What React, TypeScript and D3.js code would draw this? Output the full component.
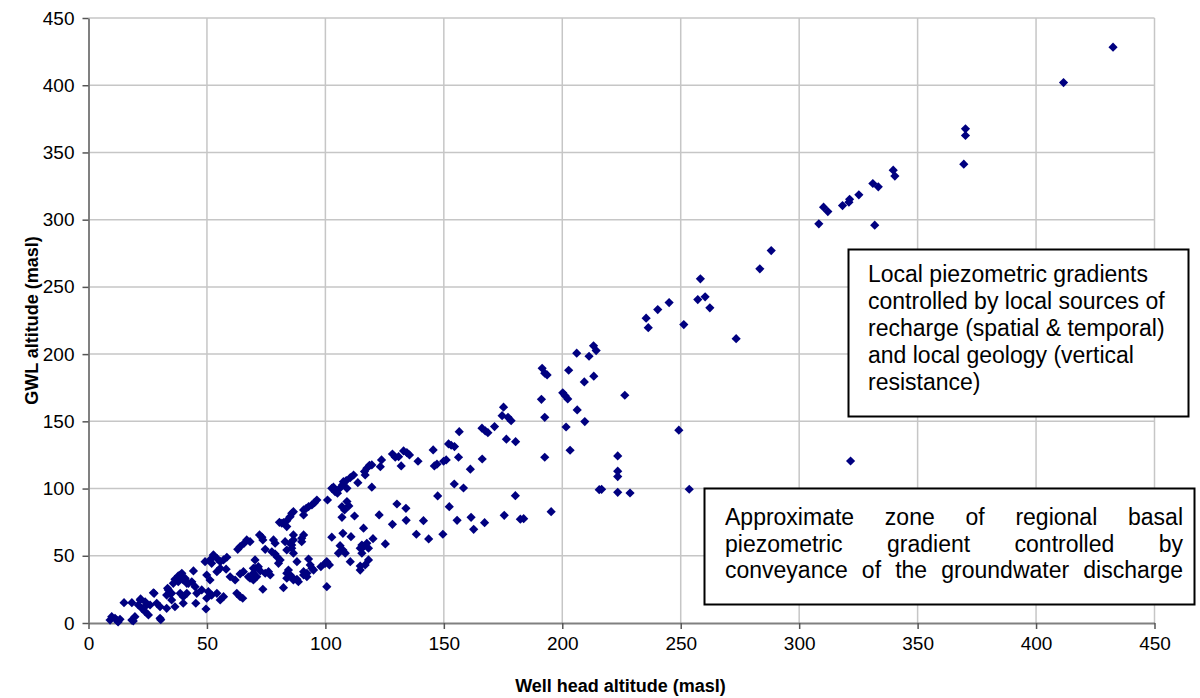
import React, { useEffect, useRef } from 'react';
import * as d3 from 'd3';

// [well head altitude, GWL altitude] pairs (masl)
const wells0to50: [number, number][] = [
  [9.1, 2.2], [9.8, 4.7], [11.2, 3.5], [11.9, 2.2], [13.3, 2.7], [12.5, 0.8], [18.3, 2.2], [18.9, 1.5], [19.6, 4.7], [30.2, 3.5], [30.5, 2.5],
  [15, 15.1], [18.3, 15.1], [21, 13.4], [22.5, 10.9], [23.9, 8.4], [25.3, 6], [21.8, 17.1], [23.9, 15.8], [26, 13.4], [28.8, 14.7], [30.2, 12.1], [33, 10.9], [22, 17.9], [24.6, 13.4],
  [27.4, 22.5], [27.7, 22.1], [33.7, 24.6], [35.1, 22.1], [33, 20.8], [33.4, 25.8], [34.4, 22.1], [35.1, 17.1], [36.5, 12.1],
  [38.7, 22.1], [40, 19.6], [41.5, 22.1], [45.7, 22.1], [47.8, 24.6], [40, 14.7], [45.3, 14.7], [49.6, 10.4], [49.9, 18.4],
  [39.4, 37], [37.9, 35], [36.5, 32.5], [40.8, 33.3], [42.2, 29.5], [43.6, 30.7], [45, 27], [38.7, 35.7], [37.3, 33.3], [40, 32], [41.5, 29.5], [35.8, 29.5], [37.9, 30.7], [44.3, 38.7],
  [49.2, 45.6], [49.9, 35.7],
];

const wells50to100: [number, number][] = [
  [50.6, 23.3], [52, 20.8], [51.3, 46.9], [52, 44.4], [53, 49.9], [52.7, 50.6], [54.2, 48.1], [55.6, 45.6], [57, 46.9], [58.4, 48.9],
  [51.3, 32], [54.2, 38.2], [55.6, 40.7], [58.1, 40],
  [55.6, 17.1], [57, 19.6], [54.2, 22.1], [62.6, 22.1], [64, 19.6], [65.1, 18.4], [73.6, 25.1],
  [59.8, 34.4], [61.9, 32], [64, 36.5], [65.4, 38.2], [67.5, 34.4], [69.6, 32], [68.2, 33.3], [69.6, 37], [71, 34.4], [70.3, 40.7], [74.6, 37], [76, 38.2], [76.7, 35.7], [72.5, 38.7], [71.7, 41.9], [69.6, 40.7],
  [63, 54.8], [64, 56.8], [65.7, 59.3], [66.8, 61.8], [68.2, 60.5], [72.2, 65.5], [73.2, 63.8], [73.6, 61.8], [74.6, 54.8], [77.4, 53], [78.8, 51.3], [79.5, 49.3], [80.9, 46.9], [80.2, 44.4], [70.3, 46.9],
  [78.1, 61.8], [78.8, 59.3], [80.6, 74.9], [82.3, 74.6], [83.7, 76.1], [85.1, 79.1], [85.8, 81.6], [86.5, 82.8], [83.7, 71.7], [81.6, 74.2],
  [90.8, 84.1], [91.9, 85.3], [92.9, 86.5], [94.3, 87.8], [95.4, 89.5], [96.4, 91.5], [90.8, 80.4],
  [83, 60.5], [86.5, 61.8], [85.8, 58], [90.8, 65.5], [90, 63], [86.5, 65.5], [90, 60.5], [85.1, 59.3], [85.8, 55.6], [83.7, 54.3], [86.5, 51.9],
  [88, 45.6], [92.9, 47.6], [94.3, 40.7], [95, 39.4], [90.8, 35.7], [92.2, 34.4], [84.4, 39.4], [83.7, 37], [85.1, 35.7], [85.8, 34.4], [83.7, 33.3], [86.5, 32], [88.6, 30.7], [82.3, 26.3], [93.6, 43.2], [90.8, 38.2], [92.2, 37], [88, 32.5],
  [98.1, 41.9],
];

const wells100to150: [number, number][] = [
  [100.6, 45.6], [101.7, 43.2], [99.9, 44.4], [100.6, 27], [102.7, 63.8], [100.9, 91.5],
  [102.7, 100.2], [104.1, 97.7], [105.1, 96.5], [103.4, 101], [106.2, 100.4], [107.2, 102.7], [107.6, 105.1], [108.8, 105.9], [110.5, 108.1], [111.9, 110.1], [109.1, 100.2], [113.7, 104.4], [116.5, 112.6], [117.5, 115.1], [118.6, 117.3], [119.6, 117.6], [116.8, 110.1], [119.6, 101],
  [107, 86.5], [109.1, 90.3], [108.1, 84.1], [109.9, 87.1], [107, 78.6], [112.3, 79.6], [107.4, 66.7], [110.8, 64.2], [106.2, 57.5], [107.4, 54.3], [105.5, 51.9], [108.4, 51.9],
  [114.7, 55.6], [115.4, 51.9], [115.4, 58], [116.1, 56.8], [117.5, 59.3], [118.2, 55.6], [114.7, 42.4], [116.8, 43.2], [110.5, 45.6], [118.2, 46.9], [114.7, 39.4],
  [116.1, 70.5], [120.1, 62.7], [122.7, 80.4], [125.3, 58.8], [128.3, 73.4], [130.2, 88.5], [134, 85.3], [134.1, 76.4], [141.4, 76.1], [138.4, 66], [143.6, 62.5], [149.6, 66],
  [123.2, 116.3], [123.7, 121.3], [128.3, 125.7], [129.5, 123.3], [130.9, 123.7], [132, 116.8], [133, 128], [134.4, 126.7], [135.5, 125], [139.1, 120.3], [145.5, 128.7], [146, 116.8], [147.1, 118.1], [149.9, 120.3], [147.4, 94.5],
];

const wells150to200: [number, number][] = [
  [151, 121.3], [152, 133.2], [153.1, 132.2], [154.5, 131.2], [156.2, 123.3], [156.5, 142.3], [161.2, 114.4], [166.2, 122], [166.1, 144.9], [167.5, 142.9], [168.6, 141.6], [171.4, 146.1], [174.6, 154.2], [175.2, 160.5], [177.1, 153], [178.4, 150.5], [176.4, 136.7], [180.3, 134.9],
  [152.3, 86.5], [154.4, 103.4], [158.3, 100.4], [155.6, 76.4], [161.5, 78.6], [162.6, 69.7], [167.2, 74.6], [175.5, 80.1], [182.3, 77.2], [183.7, 77.6], [180.2, 94.7], [195.3, 82.8],
  [191.5, 189.5], [192.6, 185.8], [193.6, 184.5], [191.2, 166.4], [192.6, 153], [192.6, 123.3],
];

const wellsAbove200: [number, number][] = [
  [200.2, 171.2], [201.2, 169.1], [202.3, 166.7], [201.6, 145.8], [203.3, 128.5], [202.7, 188], [206.1, 200.7], [206.3, 158.5], [211.3, 198.4], [213.2, 206.2], [214.3, 202.6], [213.3, 183.6], [209.3, 179.3], [209.5, 149.8],
  [215.6, 99.2], [216.6, 99.4], [226.4, 169.4], [223.4, 124.3], [223.4, 112.9], [223.4, 108.9], [223.4, 97.2], [228.6, 96.7],
  [235.4, 226.7], [236.3, 219.7], [240.3, 233.1], [245.1, 238.3], [251.3, 222], [249.2, 143.4], [253.6, 99.5], [257.2, 240.6], [258.3, 256], [260.3, 242.6], [262.3, 234.4], [273.4, 211.5],
  [283.4, 263.4], [288.2, 277], [308.3, 296.9], [310.3, 309.3], [312.1, 306], [318.3, 310.5], [321, 313], [321.3, 315.2], [325.2, 318.5], [331.1, 326.9], [333.4, 324.4], [331.9, 295.9], [321.7, 120.5],
  [339.7, 336.8], [340.4, 332.4], [369.5, 341.3], [370.2, 362.6], [370.2, 367.6], [411.6, 402], [432.5, 428.3],
];

const xTicks = [0, 50, 100, 150, 200, 250, 300, 350, 400, 450];
const yTicks = [0, 50, 100, 150, 200, 250, 300, 350, 400, 450];

const localNote = [
  'Local piezometric gradients',
  'controlled by local sources of',
  'recharge (spatial & temporal)',
  'and local geology (vertical',
  'resistance)',
];
const regionalNote = [
  'Approximate zone of regional basal',
  'piezometric gradient controlled by',
  'conveyance of the groundwater discharge',
];

const App: React.FC = () => {
  const svgRef = useRef<SVGSVGElement>(null);

  useEffect(() => {
    const svg = d3.select(svgRef.current);
    svg.selectAll('*').remove();

    const font = "'Liberation Sans', Arial, sans-serif";
    const left = 88.5, right = 1154.5, top = 18, bottom = 623;

    const x = d3.scaleLinear().domain([0, 450]).range([left, right]);
    const y = d3.scaleLinear().domain([0, 450]).range([bottom, top]);

    svg.append('rect').attr('width', 1200).attr('height', 698).attr('fill', '#fff');

    // gridlines
    const grid = svg.append('g').attr('stroke', '#c6c6c6').attr('stroke-width', 1.5);
    yTicks.filter(t => t > 0).forEach(t => {
      grid.append('line').attr('x1', left).attr('x2', right).attr('y1', y(t)).attr('y2', y(t));
    });
    xTicks.filter(t => t > 0).forEach(t => {
      grid.append('line').attr('x1', x(t)).attr('x2', x(t)).attr('y1', top).attr('y2', bottom);
    });

    // axes
    const yAxis = svg.append('g')
      .attr('transform', `translate(${left},0)`)
      .call(d3.axisLeft(y).tickValues(yTicks).tickSize(6).tickPadding(8).tickSizeOuter(0));
    const xAxis = svg.append('g')
      .attr('transform', `translate(0,${bottom})`)
      .call(d3.axisBottom(x).tickValues(xTicks).tickSize(6).tickPadding(8).tickSizeOuter(0));
    [yAxis, xAxis].forEach(a => {
      a.select('.domain').attr('stroke', '#808080').attr('stroke-width', 2);
      a.selectAll('.tick line').attr('stroke', '#555').attr('stroke-width', 1.5);
      a.selectAll('text').attr('fill', '#000').style('font-family', font).style('font-size', '19px');
    });

    // axis titles
    svg.append('text')
      .attr('x', (left + right) / 2 - 1).attr('y', 692)
      .attr('text-anchor', 'middle')
      .style('font-family', font).style('font-size', '18px').style('font-weight', 'bold')
      .text('Well head altitude (masl)');
    svg.append('text')
      .attr('transform', `translate(38,${(top + bottom) / 2}) rotate(-90)`)
      .attr('text-anchor', 'middle')
      .style('font-family', font).style('font-size', '18px').style('font-weight', 'bold')
      .text('GWL altitude (masl)');

    // markers
    const all = [...wells0to50, ...wells50to100, ...wells100to150, ...wells150to200, ...wellsAbove200];
    const r = 4.6;
    svg.append('g').selectAll('path')
      .data(all)
      .enter()
      .append('path')
      .attr('d', `M0,${-r}L${r},0L0,${r}L${-r},0Z`)
      .attr('transform', d => `translate(${x(d[0])},${y(d[1])})`)
      .attr('fill', '#000080');

    // annotation boxes
    const box1 = svg.append('g');
    box1.append('rect').attr('x', 848.5).attr('y', 249.5).attr('width', 340).attr('height', 167)
      .attr('fill', '#fff').attr('stroke', '#000').attr('stroke-width', 2);
    localNote.forEach((line, i) => {
      box1.append('text')
        .attr('x', 868).attr('y', 282 + i * 27)
        .style('font-family', font).style('font-size', '23px')
        .text(line);
    });

    const box2 = svg.append('g');
    box2.append('rect').attr('x', 704.5).attr('y', 488.5).attr('width', 490).attr('height', 116)
      .attr('fill', '#fff').attr('stroke', '#000').attr('stroke-width', 2);
    const jx0 = 725, jx1 = 1183;
    regionalNote.forEach((line, i) => {
      const words = line.split(' ');
      const ty = 525 + i * 26.5;
      const nodes = words.map(w => box2.append('text')
        .attr('y', ty)
        .style('font-family', font).style('font-size', '23px')
        .text(w));
      const widths = nodes.map(n => (n.node() as SVGTextElement).getComputedTextLength());
      const total = widths.reduce((s, v) => s + v, 0);
      const gap = words.length > 1 ? (jx1 - jx0 - total) / (words.length - 1) : 0;
      let cx = jx0;
      nodes.forEach((n, k) => {
        n.attr('x', cx);
        cx += widths[k] + gap;
      });
    });
  }, []);

  return (
    <svg ref={svgRef} width={1200} height={698}
      style={{ position: 'absolute', left: 0, top: 0, display: 'block' }} />
  );
};

export default App;
